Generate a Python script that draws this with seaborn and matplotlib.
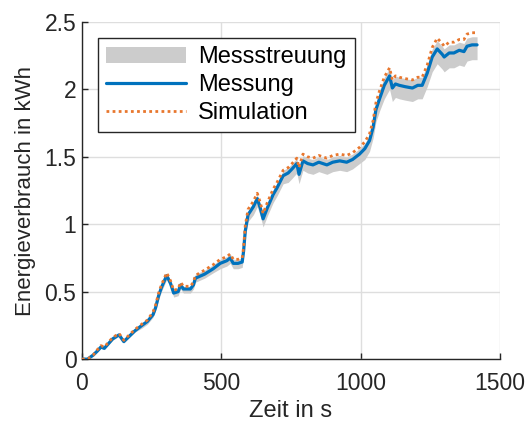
import matplotlib
matplotlib.use("Agg")
import matplotlib.pyplot as plt
import seaborn as sns
import pandas as pd

# Zeitstützstellen in s
zeit = [0, 20, 40, 55, 68, 80, 93, 110, 133, 150,
        170, 190, 215, 235, 255, 264, 275, 285, 304, 318,
        329, 345, 354, 364, 389, 400, 407, 440, 471, 496,
        520, 532, 543, 560, 575, 580, 586, 596, 615, 629,
        640, 650, 665, 686, 700, 722, 740, 754, 771, 779,
        793, 810, 829, 850, 879, 900, 925, 950, 971, 996,
        1015, 1032, 1045, 1055, 1068, 1085, 1104, 1114, 1125, 1139,
        1160, 1186, 1205, 1221, 1239, 1257, 1275, 1293, 1300, 1318,
        1335, 1354, 1371, 1382, 1400, 1418]

# Gemessener Energieverbrauch in kWh
messung = [0.00, 0.00, 0.03, 0.06, 0.09, 0.08, 0.11, 0.15, 0.18, 0.13,
           0.17, 0.21, 0.25, 0.28, 0.33, 0.38, 0.47, 0.53, 0.62, 0.56,
           0.49, 0.50, 0.55, 0.52, 0.52, 0.55, 0.60, 0.63, 0.67, 0.71,
           0.73, 0.75, 0.71, 0.71, 0.72, 0.80, 0.95, 1.07, 1.13, 1.19,
           1.12, 1.04, 1.12, 1.22, 1.27, 1.36, 1.38, 1.41, 1.45, 1.37,
           1.47, 1.45, 1.44, 1.46, 1.44, 1.46, 1.47, 1.46, 1.48, 1.52,
           1.56, 1.62, 1.72, 1.85, 1.93, 2.03, 2.10, 2.01, 2.04, 2.03,
           2.02, 2.01, 2.03, 2.03, 2.12, 2.24, 2.30, 2.26, 2.24, 2.27,
           2.27, 2.29, 2.28, 2.32, 2.33, 2.33]

# Simulierter Energieverbrauch in kWh
simulation = [0.00, 0.00, 0.03, 0.07, 0.10, 0.09, 0.12, 0.16, 0.19, 0.14,
              0.18, 0.22, 0.26, 0.29, 0.35, 0.40, 0.49, 0.55, 0.64, 0.58,
              0.51, 0.52, 0.57, 0.54, 0.54, 0.57, 0.62, 0.66, 0.70, 0.74,
              0.76, 0.78, 0.74, 0.74, 0.75, 0.83, 0.99, 1.11, 1.17, 1.23,
              1.16, 1.08, 1.16, 1.26, 1.31, 1.40, 1.42, 1.45, 1.49, 1.42,
              1.52, 1.50, 1.49, 1.51, 1.49, 1.51, 1.52, 1.51, 1.53, 1.57,
              1.61, 1.67, 1.77, 1.90, 1.99, 2.09, 2.16, 2.07, 2.10, 2.09,
              2.08, 2.07, 2.09, 2.09, 2.18, 2.31, 2.38, 2.34, 2.32, 2.35,
              2.35, 2.37, 2.37, 2.41, 2.42, 2.42]

# Untere und obere Grenze der Messstreuung in kWh
streuung_min = [0.00, 0.00, 0.02, 0.05, 0.08, 0.07, 0.10, 0.14, 0.17, 0.12,
                0.16, 0.20, 0.23, 0.26, 0.31, 0.36, 0.44, 0.50, 0.59, 0.53,
                0.46, 0.47, 0.52, 0.49, 0.49, 0.52, 0.57, 0.60, 0.64, 0.67,
                0.69, 0.71, 0.67, 0.67, 0.68, 0.76, 0.90, 1.02, 1.07, 1.13,
                1.06, 0.98, 1.06, 1.16, 1.21, 1.30, 1.31, 1.34, 1.38, 1.30,
                1.40, 1.38, 1.37, 1.39, 1.37, 1.39, 1.40, 1.39, 1.41, 1.45,
                1.48, 1.54, 1.64, 1.76, 1.84, 1.93, 2.00, 1.91, 1.94, 1.93,
                1.92, 1.91, 1.93, 1.93, 2.02, 2.13, 2.19, 2.15, 2.13, 2.16,
                2.16, 2.18, 2.17, 2.21, 2.22, 2.22]
streuung_max = [0.00, 0.01, 0.04, 0.07, 0.10, 0.09, 0.12, 0.16, 0.19, 0.14,
                0.18, 0.22, 0.26, 0.29, 0.35, 0.40, 0.49, 0.55, 0.64, 0.58,
                0.51, 0.52, 0.57, 0.54, 0.54, 0.57, 0.63, 0.66, 0.70, 0.74,
                0.76, 0.78, 0.74, 0.74, 0.75, 0.83, 0.98, 1.10, 1.16, 1.22,
                1.15, 1.07, 1.15, 1.25, 1.30, 1.40, 1.42, 1.45, 1.49, 1.41,
                1.51, 1.49, 1.48, 1.50, 1.48, 1.50, 1.51, 1.50, 1.52, 1.56,
                1.60, 1.66, 1.77, 1.90, 1.99, 2.09, 2.16, 2.07, 2.10, 2.09,
                2.08, 2.07, 2.09, 2.09, 2.18, 2.30, 2.36, 2.32, 2.30, 2.33,
                2.33, 2.35, 2.34, 2.38, 2.39, 2.39]

x_ticks = [0, 500, 1000, 1500]
y_ticks = [0, 0.5, 1, 1.5, 2, 2.5]
y_ticklabels = ["0", "0.5", "1", "1.5", "2", "2.5"]

df = pd.DataFrame({"Zeit": zeit, "Messung": messung, "Simulation": simulation,
                   "min": streuung_min, "max": streuung_max})

sns.set_theme(style="whitegrid")
plt.rcParams["font.family"] = ["Liberation Sans", "DejaVu Sans"]

DARK = "#262626"
fig = plt.figure(figsize=(5.29, 4.22), dpi=100)
ax = fig.add_axes([0.155, 0.149, 0.79, 0.799])

ax.fill_between(df["Zeit"], df["min"], df["max"], color="#cccccc",
                linewidth=0, label="Messstreuung", zorder=2)
sns.lineplot(data=df, x="Zeit", y="Messung", ax=ax, color="#0072BD",
             linewidth=2.3, label="Messung", zorder=3)
sns.lineplot(data=df, x="Zeit", y="Simulation", ax=ax, color="#E8772E",
             linewidth=2.0, linestyle=(0, (1, 1.2)), label="Simulation", zorder=4)

ax.set_xlim(0, 1500)
ax.set_ylim(0, 2.5)
ax.set_xticks(x_ticks)
ax.set_yticks(y_ticks)
ax.set_yticklabels(y_ticklabels)
ax.set_xlabel("Zeit in s", fontsize=17, color=DARK, labelpad=4)
ax.set_ylabel("Energieverbrauch in kWh", fontsize=16, color=DARK, labelpad=6)

ax.grid(True, color="#dedede", linewidth=1.0)
ax.set_axisbelow(True)
for side in ["top", "right"]:
    ax.spines[side].set_visible(False)
for side in ["left", "bottom"]:
    ax.spines[side].set_visible(True)
    ax.spines[side].set_color(DARK)
    ax.spines[side].set_linewidth(1.0)
ax.tick_params(axis="both", direction="in", length=4, width=1.0,
               colors=DARK, labelsize=16.5, pad=4,
               bottom=True, left=True, top=False, right=False)
ax.tick_params(axis="x", pad=9)
ax.set_facecolor("white")

leg = ax.legend(loc="upper left", bbox_to_anchor=(0.038, 0.952), fontsize=17,
                frameon=True, fancybox=False, framealpha=1, edgecolor=DARK,
                handlelength=3.4, labelspacing=0.25, borderpad=0.35,
                handletextpad=0.5, borderaxespad=0)
leg.get_frame().set_linewidth(1.0)
for t in leg.get_texts():
    t.set_color("black")

fig.savefig("out.png", dpi=100)
